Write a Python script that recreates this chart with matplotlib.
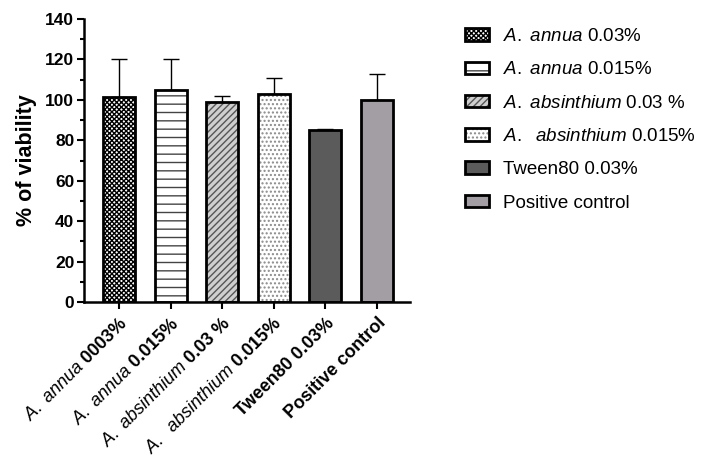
import numpy as np
import matplotlib
matplotlib.use("Agg")
import matplotlib.pyplot as plt
from matplotlib.patches import Patch

plt.rcParams["font.family"] = ["Liberation Sans", "DejaVu Sans"]
plt.rcParams["mathtext.fontset"] = "custom"
plt.rcParams["mathtext.rm"] = "Liberation Sans"
plt.rcParams["mathtext.it"] = "Liberation Sans:italic"
plt.rcParams["mathtext.bf"] = "Liberation Sans:bold"
plt.rcParams["hatch.linewidth"] = 1.0

# ── data ──────────────────────────────────────────────────────────────────
tick_labels = [
    r"$\mathit{A.}$ $\mathit{annua}$ $\mathbf{0003\%}$",
    r"$\mathit{A.}$ $\mathit{annua}$ $\mathbf{0.015\%}$",
    r"$\mathit{A.}$ $\mathit{absinthium}$ 0.03 %",
    r"$\mathit{A.}$  $\mathit{absinthium}$ $\mathbf{0.015\%}$",
    "Tween80 0.03%",
    "Positive control",
]
legend_labels = [
    r"$\mathit{A.}$ $\mathit{annua}$ 0.03%",
    r"$\mathit{A.}$ $\mathit{annua}$ 0.015%",
    r"$\mathit{A.}$ $\mathit{absinthium}$ 0.03 %",
    r"$\mathit{A.}$  $\mathit{absinthium}$ 0.015%",
    "Tween80 0.03%",
    "Positive control",
]
viability = [101.5, 104.8, 98.7, 102.8, 85.0, 99.8]
sd_upper = [18.5, 15.5, 3.2, 8.2, 0.8, 12.8]

# ── styles ────────────────────────────────────────────────────────────────
faces = ["white", "white", "#cfcfcf", "white", "#5b5b5b", "#a39ea3"]
hatches = ["xxxxxxx", "--", "/////", "....", None, None]
hatch_cols = ["black", "#444444", "#555555", "#8a8a8a", "#5b5b5b", "#a39ea3"]

W, H = 701, 457
fig = plt.figure(figsize=(W / 100, H / 100), dpi=100)
ax = fig.add_axes([84 / W, (H - 302) / H, (410 - 84) / W, (302 - 19) / H])

x = np.arange(len(viability))
bw = 0.62
# fill + hatch layer (hatch takes edge colour), then black outline layer
for i in x:
    ax.bar(x[i], viability[i], bw, color=faces[i], hatch=hatches[i],
           edgecolor=hatch_cols[i], linewidth=0, zorder=2)
ax.bar(x, viability, bw, fill=False, edgecolor="black", linewidth=2.0, zorder=3)
ax.errorbar(x, viability, yerr=[np.zeros(len(x)), sd_upper], fmt="none",
            ecolor="black", elinewidth=1.0, capsize=6, capthick=1.0, zorder=1)

ax.set_xlim(-0.68, 5.64)
ax.set_ylim(0, 140)
ax.set_yticks(np.arange(0, 141, 20))
ax.set_yticks(np.arange(10, 140, 20), minor=True)
ax.set_xticks(x)
ax.set_xticklabels(tick_labels, rotation=45, ha="right", rotation_mode="anchor",
                   fontsize=13, fontweight="bold")
for lab in ax.get_yticklabels():
    lab.set_fontweight("bold")
    lab.set_fontsize(12.5)
ax.tick_params(axis="both", which="major", direction="out", length=5, width=1.5)
ax.tick_params(axis="y", which="minor", direction="out", length=3, width=1.5)
ax.tick_params(axis="x", pad=4)
ax.tick_params(axis="y", pad=2)
for s in ["top", "right"]:
    ax.spines[s].set_visible(False)
for s in ["left", "bottom"]:
    ax.spines[s].set_linewidth(1.8)
ax.set_ylabel("% of viability", fontsize=15.5, fontweight="bold", labelpad=6)

# ── legend ────────────────────────────────────────────────────────────────
handles = []
for i in range(len(viability)):
    fillp = Patch(facecolor=faces[i], hatch=hatches[i], edgecolor=hatch_cols[i], linewidth=0)
    edgep = Patch(fill=False, edgecolor="black", linewidth=2.0)
    handles.append((fillp, edgep))
fig.legend(handles, legend_labels, loc="upper left",
           bbox_to_anchor=(465 / W, 1 - 28 / H), frameon=False, fontsize=13.5,
           handlelength=1.28, handleheight=0.64, handletextpad=0.75,
           labelspacing=0.87, borderaxespad=0, borderpad=0)

fig.savefig("out.png", dpi=100, facecolor="white")
